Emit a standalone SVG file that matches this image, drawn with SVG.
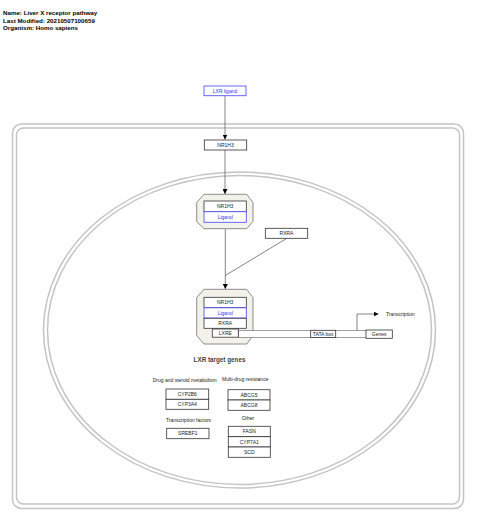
<svg xmlns="http://www.w3.org/2000/svg" width="480" height="524" viewBox="0 0 480 524">
<style>
text{font-family:"Liberation Sans",Arial,sans-serif;}
.hdr{font-size:6.2px;font-weight:bold;fill:#000;}
.lbl{font-size:5px;fill:#222;text-anchor:middle;}
.blbl{font-size:5px;fill:#3333ff;text-anchor:middle;}
.box{fill:#fff;stroke:#333;stroke-width:0.8;}
.lbox{fill:#fff;stroke:#5555ff;stroke-width:0.9;}
.cmp{fill:#f2f2ea;stroke:#808080;stroke-width:0.9;}
.comp{fill:none;stroke:#c4c4c4;stroke-width:1.5;}
.edge{fill:none;stroke:#666;stroke-width:0.8;}
.note{font-size:5px;fill:#222;}
</style>
<defs>
<marker id="arr" viewBox="0 0 10 10" refX="10" refY="5" markerWidth="5" markerHeight="5" markerUnits="userSpaceOnUse" orient="auto">
<path d="M0,0 L10,5 L0,10 z" fill="#000"/>
</marker>
</defs>
<rect width="480" height="524" fill="#fff"/>
<g id="header">
<text class="hdr" x="3" y="15">Name: Liver X receptor pathway</text>
<text class="hdr" x="3" y="22.5">Last Modified: 20210507100659</text>
<text class="hdr" x="3" y="30">Organism: Homo sapiens</text>
</g>
<g id="cell">
<rect class="comp" x="12.5" y="124" width="451" height="384.5" rx="9"/>
<rect class="comp" x="16.5" y="128" width="443" height="376" rx="7"/>
</g>
<g id="nucleus">
<ellipse class="comp" cx="239.5" cy="330" rx="196" ry="158"/>
<ellipse class="comp" cx="239.5" cy="330" rx="192" ry="154.5"/>
</g>
<g id="connectors">
<line class="edge" x1="225" y1="96" x2="225" y2="139.5" marker-end="url(#arr)"/>
<line class="edge" x1="225" y1="150" x2="225" y2="194" marker-end="url(#arr)"/>
<line class="edge" x1="225.3" y1="229" x2="225.3" y2="289" marker-end="url(#arr)"/>
<line class="edge" x1="286.5" y1="238.5" x2="225.3" y2="275.5"/>
</g>
<g id="complex1">
<polygon class="cmp" points="204,194.3 246.7,194.3 253,202.5 253,221.5 246.7,228.7 204,228.7 196.7,221.5 196.7,202.5"/>
<g id="c1-nr1h3"><rect class="box" x="204" y="201" width="42.3" height="10.7"/><text class="lbl" x="225.2" y="208.2">NR1H3</text></g>
<g id="c1-ligand"><rect class="lbox" x="204" y="211.7" width="42.3" height="10.6"/><text class="blbl" x="225.2" y="218.8">Ligand</text></g>
</g>
<g id="lxr-ligand"><rect class="lbox" x="204" y="86" width="42" height="9.7"/><text class="blbl" x="225" y="92.6">LXR ligand</text></g>
<g id="nr1h3"><rect class="box" x="204.3" y="140" width="42.4" height="10"/><text class="lbl" x="225.5" y="146.8">NR1H3</text></g>
<g id="rxra"><rect class="box" x="265.3" y="228.3" width="42.4" height="10"/><text class="lbl" x="286.5" y="235.1">RXRA</text></g>
<g id="complex2">
<polygon class="cmp" points="204,289.3 246.7,289.3 253,297.5 253,335.5 246.7,344 204,344 196.7,335.5 196.7,297.5"/>
<g id="c2-nr1h3"><rect class="box" x="204" y="297.3" width="42.3" height="10.2"/><text class="lbl" x="225.2" y="304.2">NR1H3</text></g>
<g id="c2-ligand"><rect class="lbox" x="204" y="307.8" width="42.3" height="10.2"/><text class="blbl" x="225.2" y="314.7">Ligand</text></g>
<g id="c2-rxra"><rect class="box" x="204" y="318.3" width="42.3" height="10"/><text class="lbl" x="225.2" y="325.1">RXRA</text></g>
</g>
<g id="dna">
<rect x="238.3" y="330.5" width="128" height="7" fill="#fff" stroke="#777" stroke-width="0.7"/>
</g>
<g id="lxre"><rect class="box" x="212.3" y="329" width="26" height="8.2"/><text class="lbl" x="225.3" y="335">LXRE</text></g>
<g id="tata"><rect class="box" x="310.7" y="330.3" width="25" height="7.2"/><text class="lbl" x="323.2" y="335.7">TATA box</text></g>
<g id="genes"><rect class="box" x="366" y="330" width="26.3" height="8.3"/><text class="lbl" x="379.2" y="336">Genes</text></g>
<g id="transcription">
<polyline class="edge" points="357,330.5 357,314 378.5,314" marker-end="url(#arr)"/>
<text class="note" x="386" y="316">Transcription</text>
</g>
<g id="target-genes">
<text x="219.5" y="362" font-size="6.3" font-weight="bold" fill="#444" text-anchor="middle">LXR target genes</text>
<text class="note" x="152.7" y="381.5">Drug and steroid metabolism</text>
<text class="note" x="222" y="380.5">Multi-drug resistance</text>
<g id="cyp2b6"><rect class="box" x="166" y="389" width="42.7" height="10.3"/><text class="lbl" x="187.3" y="396">CYP2B6</text></g>
<g id="cyp3a4"><rect class="box" x="166" y="399.3" width="42.7" height="10"/><text class="lbl" x="187.3" y="406">CYP3A4</text></g>
<g id="abcg5"><rect class="box" x="228" y="389.7" width="42" height="10.3"/><text class="lbl" x="249" y="396.7">ABCG5</text></g>
<g id="abcg8"><rect class="box" x="228" y="400" width="42" height="10.3"/><text class="lbl" x="249" y="407">ABCG8</text></g>
<text class="note" x="166" y="421.5">Transcription factors</text>
<text class="note" x="241.7" y="419.5">Other</text>
<g id="srebf1"><rect class="box" x="166.7" y="428.3" width="42.3" height="10.4"/><text class="lbl" x="187.8" y="435.3">SREBF1</text></g>
<g id="fasn"><rect class="box" x="228.3" y="426.3" width="42" height="10.4"/><text class="lbl" x="249.3" y="433.3">FASN</text></g>
<g id="cyp7a1"><rect class="box" x="228.3" y="436.7" width="42" height="10.3"/><text class="lbl" x="249.3" y="443.7">CYP7A1</text></g>
<g id="scd"><rect class="box" x="228.3" y="447" width="42" height="10.3"/><text class="lbl" x="249.3" y="454">SCD</text></g>
</g>
</svg>
